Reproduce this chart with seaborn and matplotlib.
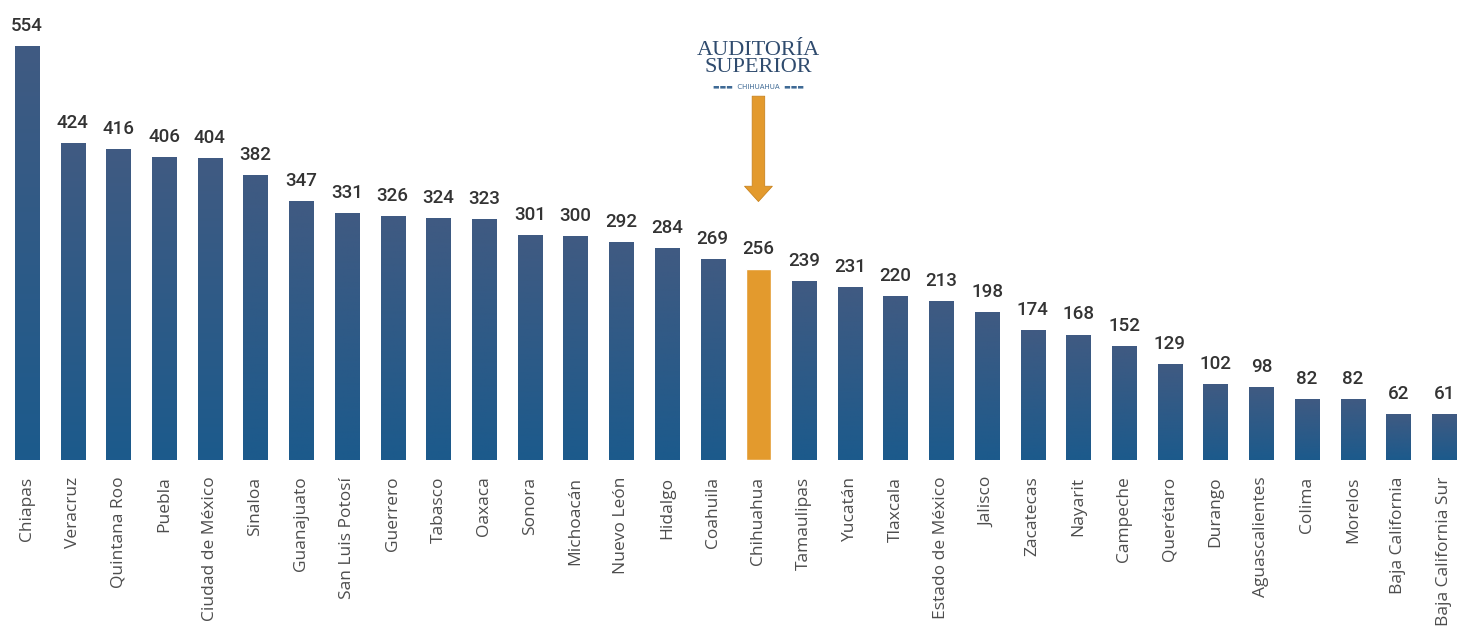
import numpy as np
import matplotlib
matplotlib.use('Agg')
import matplotlib.pyplot as plt
import seaborn as sns
from matplotlib.colors import LinearSegmentedColormap

estados = ['Chiapas', 'Veracruz', 'Quintana Roo', 'Puebla', 'Ciudad de México', 'Sinaloa',
           'Guanajuato', 'San Luis Potosí', 'Guerrero', 'Tabasco', 'Oaxaca', 'Sonora',
           'Michoacán', 'Nuevo León', 'Hidalgo', 'Coahuila', 'Chihuahua', 'Tamaulipas',
           'Yucatán', 'Tlaxcala', 'Estado de México', 'Jalisco', 'Zacatecas', 'Nayarit',
           'Campeche', 'Querétaro', 'Durango', 'Aguascalientes', 'Colima', 'Morelos',
           'Baja California', 'Baja California Sur']
valores = [554, 424, 416, 406, 404, 382, 347, 331, 326, 324, 323, 301, 300, 292, 284, 269,
           256, 239, 231, 220, 213, 198, 174, 168, 152, 129, 102, 98, 82, 82, 62, 61]
destacado = 'Chihuahua'

azul = '#2b5886'
naranja = '#e39a2d'
colores = [naranja if e == destacado else azul for e in estados]

sns.set_style('white')
plt.rcParams['font.family'] = ['Open Sans', 'DejaVu Sans']

fig = plt.figure(figsize=(14.57, 6.39), dpi=100)
ax = fig.add_axes([0, 179 / 639, 1, 460 / 639])

sns.barplot(x=estados, y=valores, hue=estados, palette=colores, legend=False,
            width=0.53, ax=ax, saturation=1)

# degradado vertical en las barras azules
grad = LinearSegmentedColormap.from_list('g', ['#1c5a8c', '#405a82'])
for bar, e in zip(ax.patches, estados):
    if e == destacado:
        continue
    x0, y0 = bar.get_x(), bar.get_y()
    w, h = bar.get_width(), bar.get_height()
    im = ax.imshow(np.linspace(0, 1, 100).reshape(-1, 1), cmap=grad, origin='lower',
                   extent=[x0, x0 + w, y0, y0 + h], aspect='auto', zorder=bar.get_zorder() + 0.1)
    im.set_clip_path(bar)

for i, v in enumerate(valores):
    ax.annotate(str(v), (i, v), xytext=(0, 8), textcoords='offset points', ha='center',
                va='bottom', fontsize=13.5, color='#333333', fontweight='medium',
                family=['Roboto', 'DejaVu Sans'])

ax.set_xlim(-0.59, 31.28)
ax.set_ylim(0, 615.8)
ax.set_xlabel('')
ax.set_ylabel('')
ax.set_yticks([])
ax.tick_params(axis='x', length=0, pad=12)
ax.set_xticks(range(len(estados)))
ax.set_xticklabels(estados, rotation=90, fontsize=12.5, color='#4d4d4d')
for s in ax.spines.values():
    s.set_visible(False)

# logo y flecha
ix = estados.index(destacado)
ax.text(ix, 537, 'AUDITORÍA\nSUPERIOR', ha='center', va='center', fontsize=16, color='#2f4b6e',
        linespacing=0.9, family=['Liberation Serif', 'DejaVu Serif'])
ax.text(ix, 499, '▬▬▬  CHIHUAHUA  ▬▬▬', ha='center', va='center', fontsize=5, color='#3f6a95',
        family=['DejaVu Sans'])
ax.annotate('', xy=(ix, 346), xytext=(ix, 487),
            arrowprops=dict(arrowstyle='simple,head_width=1.0,head_length=0.55,tail_width=0.45',
                            mutation_scale=20, color=naranja, ec='#c98420', lw=0.6,
                            shrinkA=0, shrinkB=0))

fig.savefig('out.png', dpi=100)
